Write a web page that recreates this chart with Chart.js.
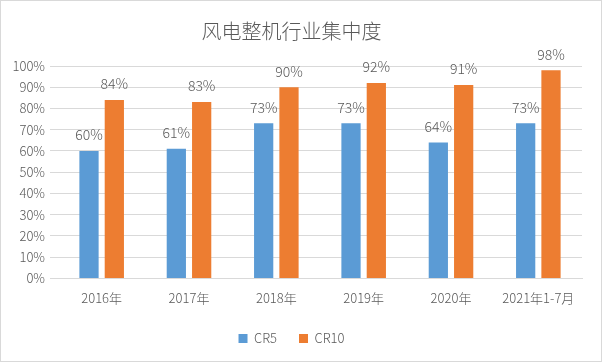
<!DOCTYPE html>
<html>
<head>
<meta charset="utf-8">
<script src="https://cdn.jsdelivr.net/npm/chart.js@4"></script>
<style>
  html, body { margin: 0; padding: 0; background: #fff; }
  #wrap { width: 600px; height: 360px; border: 1px solid #d9d9d9; position: relative; }
</style>
</head>
<body>
<div id="wrap"><canvas id="chart"></canvas></div>
<script>
const categories = ['2016年', '2017年', '2018年', '2019年', '2020年', '2021年1-7月'];
const cr5 = [60, 61, 73, 73, 64, 73];
const cr10 = [84, 83, 90, 92, 91, 98];

const FONT = "'Noto Sans CJK SC', 'Noto Sans', sans-serif";
const TEXT = '#595959';

// Draws the value label above each bar
const barLabels = {
    id: 'barLabels',
    afterDatasetsDraw(chart) {
        const ctx = chart.ctx;
        ctx.save();
        ctx.font = `300 14px ${FONT}`;
        ctx.fillStyle = TEXT;
        ctx.textAlign = 'center';
        ctx.textBaseline = 'bottom';
        chart.data.datasets.forEach((ds, i) => {
            chart.getDatasetMeta(i).data.forEach((bar, j) => {
                ctx.fillText(ds.data[j] + '%', bar.x, bar.y - 9);
            });
        });
        ctx.restore();
    }
};

new Chart(document.getElementById('chart'), {
    type: 'bar',
    data: {
        labels: categories,
        datasets: [
            { label: 'CR5', data: cr5, backgroundColor: '#5b9bd5' },
            { label: 'CR10', data: cr10, backgroundColor: '#ed7d31' }
        ]
    },
    options: {
        responsive: true,
        maintainAspectRatio: false,
        animation: false,
        categoryPercentage: 0.58,
        barPercentage: 0.76,
        layout: { padding: { left: 0, right: 19, top: 10, bottom: 6 } },
        plugins: {
            title: {
                display: true,
                text: '风电整机行业集中度',
                color: TEXT,
                font: { family: FONT, size: 20, weight: 300 },
                padding: { top: 8, bottom: 23 }
            },
            legend: {
                position: 'bottom',
                labels: {
                    color: TEXT,
                    font: { family: FONT, size: 13, weight: 300 },
                    boxWidth: 9,
                    boxHeight: 9,
                    padding: 22
                }
            },
            tooltip: { enabled: false }
        },
        scales: {
            x: {
                grid: { display: false },
                border: { display: true, color: '#d9d9d9' },
                ticks: { color: TEXT, font: { family: FONT, size: 13, weight: 300 }, padding: 4 }
            },
            y: {
                min: 0,
                max: 100,
                grid: { color: '#d9d9d9' },
                border: { display: false },
                afterFit: scale => { scale.width = 57; },
                ticks: {
                    stepSize: 10,
                    color: TEXT,
                    font: { family: FONT, size: 13, weight: 300 },
                    padding: 5,
                    callback: v => v + '%'
                }
            }
        }
    },
    plugins: [barLabels]
});
</script>
</body>
</html>
